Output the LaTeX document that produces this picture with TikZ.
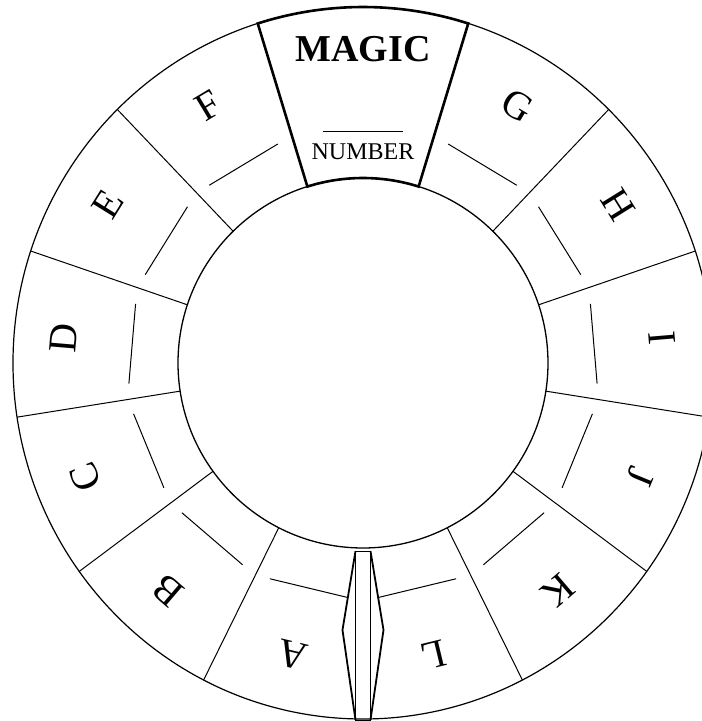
\documentclass[tikz,border=0pt]{standalone}
\usepackage{fontspec}
\setmainfont{Liberation Serif}
\usetikzlibrary{calc}

\begin{document}
\begin{tikzpicture}[x=1pt,y=1pt,
  thinline/.style={line width=1pt},
  boldline/.style={line width=2.6pt},
  letter/.style={inner sep=0pt,font=\fontsize{40}{40}\selectfont}]
\useasboundingbox (-363,-358) rectangle (339,363);
% rings
\draw[line width=1.2pt] (0,0) ellipse [x radius=350, y radius=356];
\draw[line width=1.3pt] (0,0) circle [radius=185];
% dividers between the letter fields
\foreach \k in {1,...,5} {
  \draw[thinline] ({107.5+27.0833*\k}:185) -- ({107.5+27.0833*\k}:350 and 356);
  \draw[thinline] ({72.5-27.0833*\k}:185) -- ({72.5-27.0833*\k}:350 and 356);
}
% letters and answer lines
\foreach \lab [count=\n] in {G,H,I,J,K,L,A,B,C,D,E,F} {
  \pgfmathsetmacro\ang{58.9583-27.0833*(\n-1)}
  \node[letter,rotate=\ang-90] (sec-\lab) at (\ang:300) {\lab};
  \draw[thinline] (\ang-9.8:235) -- (\ang+9.8:235);
}
% magic number field
\draw[boldline] (107.5:185) -- (107.5:350 and 356)
  arc [start angle=107.5, end angle=72.5, x radius=350, y radius=356]
  -- (72.5:185) arc [start angle=72.5, end angle=107.5, radius=185] -- cycle;
\node[inner sep=0pt,font=\bfseries\fontsize{38}{38}\selectfont] (magic) at (0,314) {MAGIC};
\draw[thinline] (80.2:235) -- (99.8:235);
\node[inner sep=0pt,font=\fontsize{24}{24}\selectfont] (number) at (0,211) {NUMBER};
% pointer
\coordinate (ptl) at (-7.5,-188);
\coordinate (ptr) at (7.5,-188);
\coordinate (pbl) at (-7.5,-357);
\coordinate (pbr) at (7.5,-357);
\draw[thinline] (ptl) rectangle (pbr);
\draw[line width=1.8pt] (ptl) -- (-20.5,-267) -- (pbl);
\draw[line width=1.8pt] (ptr) -- (20.5,-267) -- (pbr);
\end{tikzpicture}
\end{document}
